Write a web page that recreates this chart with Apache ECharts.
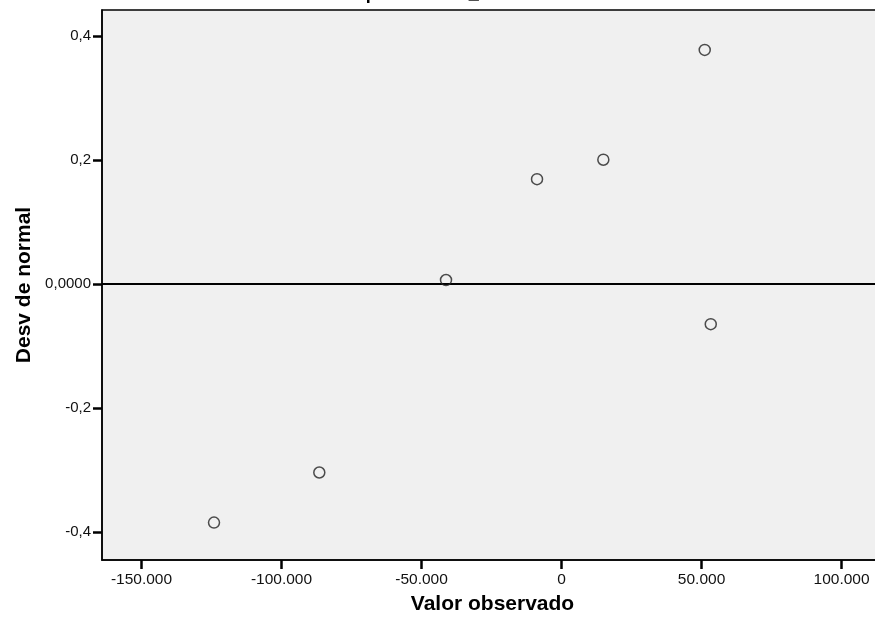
<!DOCTYPE html>
<html>
<head>
<meta charset="utf-8">
<script src="https://cdn.jsdelivr.net/npm/echarts@6/dist/echarts.min.js"></script>
<style>
html,body{margin:0;padding:0;background:#fff;}
#chart{width:875px;height:625px;}
</style>
</head>
<body>
<div id="chart"></div>
<script>
const titleText = "para C2019r_ = 1";
const xAxisTitle = "Valor observado";
const yAxisTitle = "Desv de normal";
const observed = [-124100, -86500, -41250, -8750, 14930, 51140, 53290];
const deviation = [-0.3845, -0.3037, 0.0066, 0.1692, 0.2006, 0.3777, -0.0645];
const xTicks = [-150000, -100000, -50000, 0, 50000, 100000];
const yTicks = [-0.4, -0.2, 0, 0.2, 0.4];
const referenceY = [0];

const fontFam = "'Liberation Sans', Arial, sans-serif";
const chart = echarts.init(document.getElementById('chart'), null, {renderer: 'canvas'});

function fmtX(v) {
  const s = Math.abs(v).toString().replace(/\B(?=(\d{3})+(?!\d))/g, '.');
  return (v < 0 ? '-' : '') + s;
}
function fmtY(v) {
  if (Math.abs(v) < 1e-9) return '0,0000';
  return v.toFixed(1).replace('.', ',');
}

chart.setOption({
  animation: false,
  backgroundColor: '#ffffff',
  title: {
    text: titleText,
    left: 'center',
    top: -20,
    textStyle: {fontFamily: fontFam, fontSize: 18, fontWeight: 'bold', color: '#000'}
  },
  grid: {
    left: 102, top: 10, right: -8, bottom: 65,
    containLabel: false,
    outerBoundsMode: 'none',
    show: true,
    backgroundColor: '#F0F0F0',
    borderColor: '#000',
    borderWidth: 1.5
  },
  xAxis: {
    type: 'value',
    min: -164100,
    max: 114800,
    name: xAxisTitle,
    nameLocation: 'middle',
    nameGap: 34,
    nameTextStyle: {fontFamily: fontFam, fontSize: 21, fontWeight: 'bold', color: '#000'},
    axisLine: {show: true, onZero: false, lineStyle: {color: '#000', width: 1.5}},
    axisTick: {show: true, length: 9, customValues: xTicks, lineStyle: {color: '#000', width: 2.5}},
    axisLabel: {customValues: xTicks, formatter: fmtX, margin: 12, fontFamily: fontFam, fontSize: 15.5, color: '#111'},
    splitLine: {show: false}
  },
  yAxis: {
    type: 'value',
    min: -0.4448,
    max: 0.442,
    name: yAxisTitle,
    nameLocation: 'middle',
    nameGap: 67,
    nameTextStyle: {fontFamily: fontFam, fontSize: 21, fontWeight: 'bold', color: '#000'},
    axisLine: {show: true, onZero: false, lineStyle: {color: '#000', width: 1.5}},
    axisTick: {show: true, length: 9, customValues: yTicks, lineStyle: {color: '#000', width: 2.5}},
    axisLabel: {customValues: yTicks, formatter: fmtY, margin: 11, fontFamily: fontFam, fontSize: 15, color: '#111'},
    splitLine: {show: false}
  },
  series: [{
    type: 'scatter',
    data: observed.map((x, i) => [x, deviation[i]]),
    symbol: 'circle',
    symbolSize: 11,
    itemStyle: {color: 'rgba(0,0,0,0)', borderColor: '#222', borderWidth: 1.5},
    z: 5,
    markLine: {
      silent: true,
      symbol: ['none', 'none'],
      label: {show: false},
      lineStyle: {color: '#000', width: 2, type: 'solid'},
      data: referenceY.map(v => ({yAxis: v}))
    }
  }]
});
</script>
</body>
</html>
